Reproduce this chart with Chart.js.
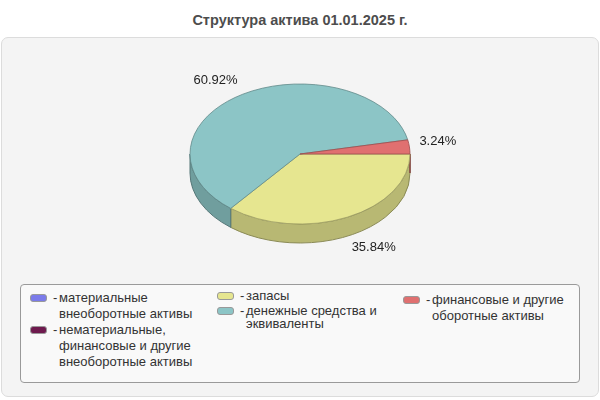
<!DOCTYPE html>
<html>
<head>
<meta charset="utf-8">
<script src="https://cdn.jsdelivr.net/npm/chart.js@4/dist/chart.umd.min.js"></script>
<style>
    body { margin: 0; background: #fff; font-family: 'Liberation Sans', Arial, sans-serif; }
    #wrap { position: relative; width: 600px; height: 400px; overflow: hidden; }
    #title {
        position: absolute; left: 0; top: 12px; width: 600px;
        text-align: center; font-weight: bold; font-size: 14.5px; color: #4d4d4d;
    }
    #panel {
        position: absolute; left: 1px; top: 37px; width: 596px; height: 358px;
        background: #f4f4f4; border: 1px solid #dcdcdc; border-radius: 7px;
    }
    #pieChart { position: absolute; left: 0; top: 0; }
    #legend {
        position: absolute; left: 20px; top: 284px; width: 558px; height: 97px;
        background: #f9f9f9; border: 1px solid #9a9a9a; border-radius: 4px;
        font-size: 13px; color: #333;
    }
    .col { position: absolute; }
    .item { position: relative; }
    .sw {
        position: absolute; left: 0; width: 15px; height: 6px;
        border: 1px solid #999; border-radius: 3px;
    }
    .dash { position: absolute; left: 23px; top: 0; }
    .txt { margin-left: 29px; width: 145px; }
</style>
</head>
<body>
<div id="wrap">
    <div id="title"></div>
    <div id="panel"></div>
    <canvas id="pieChart" width="600" height="400"></canvas>
    <div id="legend"></div>
</div>
<script>
const chartTitle = 'Структура актива 01.01.2025 г.'
const categories = [
    'материальные внеоборотные активы',
    'нематериальные, финансовые и другие внеоборотные активы',
    'запасы',
    'денежные средства и эквиваленты',
    'финансовые и другие оборотные активы',
]
const shares = [0, 0, 35.84, 60.92, 3.24]
const colors = ['#7b7bea', '#6e1a4e', '#e6e690', '#8cc5c6', '#e07070']

// legend layout: which categories go in which column
const legendCols = [
    { items: [0, 1], left: 9, top: 5, lineHeight: 16, gap: 0 },
    { items: [2, 3], left: 196, top: 4, lineHeight: 13, gap: 2 },
    { items: [4], left: 382, top: 7, lineHeight: 16, gap: 0 },
]

const flatten = 70 / 110 // vertical squash of the pie
const depth = 19

document.getElementById('title').textContent = chartTitle

function shade(hex, f) {
    const n = parseInt(hex.slice(1), 16)
    const r = Math.round(((n >> 16) & 255) * f)
    const g = Math.round(((n >> 8) & 255) * f)
    const b = Math.round((n & 255) * f)
    return `rgb(${r},${g},${b})`
}

// Build the legend from the data
const legend = document.getElementById('legend')
legendCols.forEach((col) => {
    const colEl = document.createElement('div')
    colEl.className = 'col'
    colEl.style.left = col.left + 'px'
    colEl.style.top = col.top + 'px'
    colEl.style.lineHeight = col.lineHeight + 'px'
    col.items.forEach((idx) => {
        const item = document.createElement('div')
        item.className = 'item'
        item.style.marginBottom = col.gap + 'px'
        const sw = document.createElement('span')
        sw.className = 'sw'
        sw.style.background = colors[idx]
        sw.style.top = col.lineHeight / 2 - 4 + 'px'
        const dash = document.createElement('span')
        dash.className = 'dash'
        dash.textContent = '-'
        const txt = document.createElement('div')
        txt.className = 'txt'
        txt.textContent = categories[idx]
        item.append(sw, dash, txt)
        colEl.appendChild(item)
    })
    legend.appendChild(colEl)
})

// Fake 3D: draw the side walls, then squash the top face
const pie3dPlugin = {
    id: 'pie3d',
    beforeDatasetsDraw(chart) {
        const ctx = chart.ctx
        const arcs = chart.getDatasetMeta(0).data
        const cx = arcs[0].x
        const cy = arcs[0].y
        const r = arcs[0].outerRadius
        const front = [
            [0, Math.PI],
            [2 * Math.PI, 3 * Math.PI],
        ]
        arcs.forEach((arc, i) => {
            if (arc.circumference === 0) return
            front.forEach(([lo, hi]) => {
                const a = Math.max(arc.startAngle, lo)
                const b = Math.min(arc.endAngle, hi)
                if (b <= a) return
                ctx.beginPath()
                ctx.ellipse(cx, cy, r, r * flatten, 0, a, b)
                ctx.ellipse(cx, cy + depth, r, r * flatten, 0, b, a, true)
                ctx.closePath()
                ctx.fillStyle = shade(colors[i], 0.8)
                ctx.fill()
                ctx.lineWidth = 1
                ctx.strokeStyle = shade(colors[i], 0.6)
                ctx.stroke()
            })
        })
        ctx.save()
        ctx.translate(cx, cy)
        ctx.scale(1, flatten)
        ctx.translate(-cx, -cy)
    },
    afterDatasetsDraw(chart) {
        const ctx = chart.ctx
        ctx.restore()

        // percentage labels outside the pie
        const arcs = chart.getDatasetMeta(0).data
        ctx.save()
        ctx.font = "13px 'Liberation Sans', Arial, sans-serif"
        ctx.fillStyle = '#222'
        ctx.textBaseline = 'middle'
        arcs.forEach((arc, i) => {
            if (shares[i] === 0) return
            const mid = (arc.startAngle + arc.endAngle) / 2
            const c = Math.cos(mid)
            const s = Math.sin(mid)
            const x = arc.x + c * (arc.outerRadius + 10)
            const y =
                arc.y + s * (arc.outerRadius * flatten + 12) + (s > 0 ? depth : -4)
            ctx.textAlign = c >= 0 ? 'left' : 'right'
            ctx.fillText(shares[i].toFixed(2) + '%', x, y)
        })
        ctx.restore()
    },
}

const ctx = document.getElementById('pieChart').getContext('2d')
new Chart(ctx, {
    type: 'pie',
    data: {
        labels: categories,
        datasets: [
            {
                data: shares,
                backgroundColor: colors,
                borderColor: colors.map((c) => shade(c, 0.7)),
                borderWidth: 1,
                hoverOffset: 0,
            },
        ],
    },
    options: {
        responsive: false,
        animation: false,
        rotation: 90,
        radius: 110,
        layout: {
            padding: { top: 0, bottom: 92, left: 0, right: 0 },
        },
        plugins: {
            legend: { display: false },
            tooltip: { enabled: false },
        },
    },
    plugins: [pie3dPlugin],
})
</script>
</body>
</html>
